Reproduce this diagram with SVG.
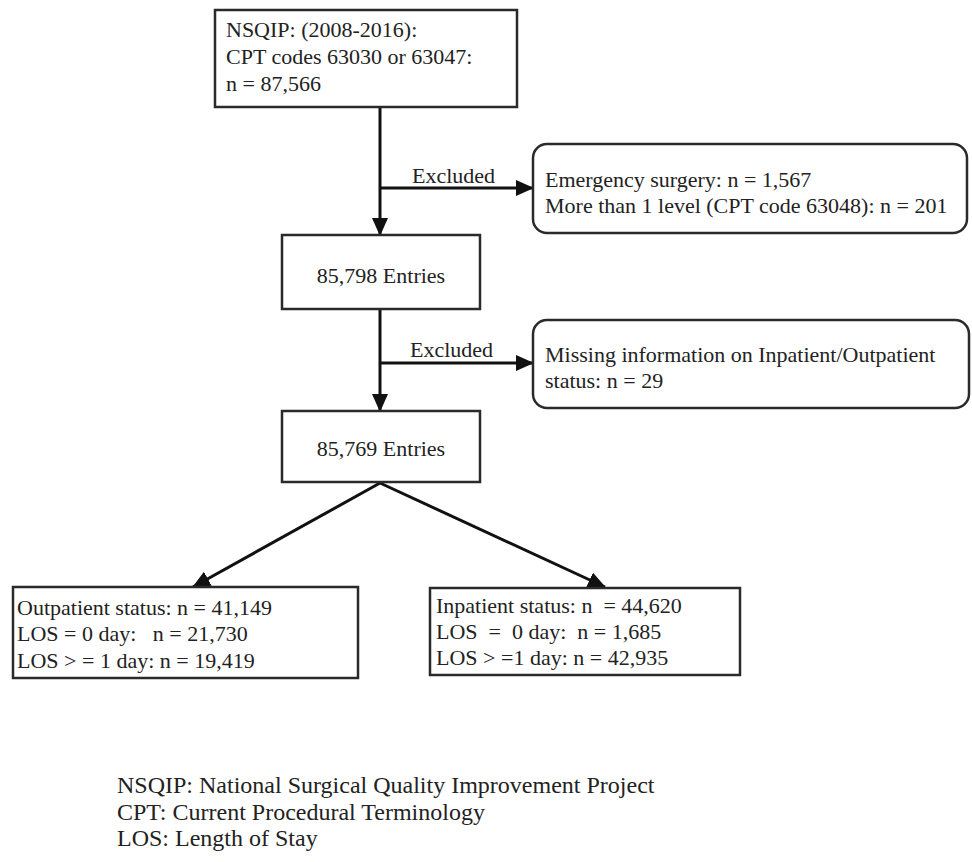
<svg xmlns="http://www.w3.org/2000/svg" width="972" height="862" viewBox="0 0 972 862">
<style>
text{font-family:"Liberation Serif","Times New Roman",serif;font-size:22px;fill:#222;white-space:pre}
.legend text{font-size:24px}
.box{fill:#fff;stroke:#2a2a2a;stroke-width:2.5}
.conn{stroke:#111;stroke-width:3;fill:none}
</style>
<defs>
<marker id="ah" markerUnits="userSpaceOnUse" markerWidth="18" markerHeight="16" refX="17" refY="8" orient="auto">
<path d="M0,0 L18,8 L0,16 Z" fill="#111"/>
</marker>
</defs>
<rect width="972" height="862" fill="#fff"/>
<g id="connectors">
<line class="conn" x1="380" y1="107" x2="380" y2="235" marker-end="url(#ah)"/>
<line class="conn" x1="380" y1="188" x2="533" y2="188" marker-end="url(#ah)"/>
<line class="conn" x1="380" y1="310" x2="380" y2="411" marker-end="url(#ah)"/>
<line class="conn" x1="380" y1="363" x2="533" y2="363" marker-end="url(#ah)"/>
<line class="conn" x1="380" y1="483" x2="193" y2="587" marker-end="url(#ah)"/>
<line class="conn" x1="380" y1="483" x2="605" y2="587" marker-end="url(#ah)"/>
<text x="412" y="183">Excluded</text>
<text x="410" y="357">Excluded</text>
</g>
<g id="start">
<rect class="box" x="215" y="10" width="302" height="97"/>
<text x="226" y="37">NSQIP: (2008-2016):</text>
<text x="226" y="64">CPT codes 63030 or 63047:</text>
<text x="226" y="91">n = 87,566</text>
</g>
<g id="excl1">
<rect class="box" x="533" y="144" width="434" height="89" rx="14"/>
<text x="545" y="187">Emergency surgery: n = 1,567</text>
<text x="545" y="213">More than 1 level (CPT code 63048): n = 201</text>
</g>
<g id="entries1">
<rect class="box" x="282" y="235" width="198" height="74"/>
<text x="381" y="283" text-anchor="middle">85,798 Entries</text>
</g>
<g id="excl2">
<rect class="box" x="533" y="320" width="436" height="88" rx="14"/>
<text x="545" y="362">Missing information on Inpatient/Outpatient</text>
<text x="545" y="388">status: n = 29</text>
</g>
<g id="entries2">
<rect class="box" x="282" y="411" width="198" height="71"/>
<text x="381" y="456" text-anchor="middle">85,769 Entries</text>
</g>
<g id="outpatient">
<rect class="box" x="13" y="587" width="345" height="91"/>
<text x="17" y="615">Outpatient status: n = 41,149</text>
<text x="17" y="641">LOS = 0 day:   n = 21,730</text>
<text x="17" y="668">LOS &gt; = 1 day: n = 19,419</text>
</g>
<g id="inpatient">
<rect class="box" x="430" y="588" width="310" height="87"/>
<text x="436" y="613">Inpatient status: n  = 44,620</text>
<text x="436" y="639">LOS  =  0 day:  n = 1,685</text>
<text x="436" y="665">LOS &gt; =1 day: n = 42,935</text>
</g>
<g id="legend" class="legend">
<text x="117" y="793">NSQIP: National Surgical Quality Improvement Project</text>
<text x="117" y="820">CPT: Current Procedural Terminology</text>
<text x="117" y="846">LOS: Length of Stay</text>
</g>
</svg>
